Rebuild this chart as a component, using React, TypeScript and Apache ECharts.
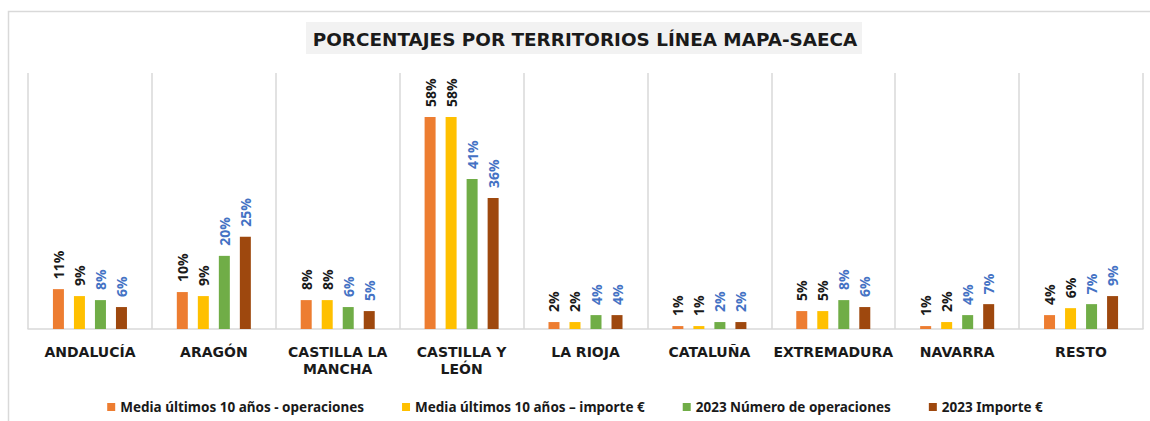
import React, { useEffect, useRef } from "react";
import * as echarts from "echarts";

const TITLE = "PORCENTAJES POR TERRITORIOS LÍNEA MAPA-SAECA";

const categories = [
  "ANDALUCÍA",
  "ARAGÓN",
  "CASTILLA LA MANCHA",
  "CASTILLA Y LEÓN",
  "LA RIOJA",
  "CATALUÑA",
  "EXTREMADURA",
  "NAVARRA",
  "RESTO",
];

const categoryLabels: Record<string, string> = {
  "CASTILLA LA MANCHA": "CASTILLA LA\nMANCHA",
  "CASTILLA Y LEÓN": "CASTILLA Y\nLEÓN",
};

const seriesNames = [
  "Media últimos 10 años - operaciones",
  "Media últimos 10 años – importe €",
  "2023 Número de operaciones",
  "2023 Importe €",
];

const mediaOperaciones = [10.9, 10.1, 7.9, 58.0, 1.9, 0.8, 4.9, 0.8, 3.8];
const mediaImporte = [9.0, 9.0, 7.9, 58.0, 1.9, 0.8, 4.9, 1.9, 5.7];
const operaciones2023 = [7.9, 20.0, 6.0, 41.0, 3.8, 1.9, 7.9, 3.8, 6.8];
const importe2023 = [6.0, 25.2, 4.9, 35.8, 3.8, 1.9, 6.0, 6.8, 9.0];

const seriesValues = [mediaOperaciones, mediaImporte, operaciones2023, importe2023];
const seriesColors = ["#ED7D31", "#FFC000", "#70AD47", "#9E480E"];
const labelColors = ["#1a1a1a", "#1a1a1a", "#4472C4", "#4472C4"];

export default function App() {
  const ref = useRef<HTMLDivElement>(null);

  useEffect(() => {
    if (!ref.current) return;
    const chart = echarts.init(ref.current, undefined, { renderer: "svg" });
    chart.setOption({
      animation: false,
      backgroundColor: "#ffffff",
      graphic: [
        {
          type: "rect",
          z: -10,
          silent: true,
          shape: { x: 8.5, y: 11.5, width: 1160, height: 430 },
          style: { fill: "none", stroke: "#D9D9D9", lineWidth: 1.5 },
        },
        {
          type: "rect",
          z: -5,
          silent: true,
          shape: { x: 306, y: 22, width: 556, height: 32 },
          style: { fill: "#F2F2F2" },
        },
        {
          type: "text",
          x: 585,
          y: 39,
          style: {
            text: TITLE,
            textAlign: "center",
            textVerticalAlign: "middle",
            fill: "#1a1a1a",
            font: "bold 18.4px 'DejaVu Sans'",
          },
        },
      ],
      legend: {
        data: seriesNames,
        left: "center",
        top: 395,
        itemWidth: 8,
        itemHeight: 8,
        itemGap: 38,
        icon: "rect",
        textStyle: {
          fontFamily: "'Noto Sans'",
          fontWeight: "bold",
          fontSize: 13.5,
          color: "#1a1a1a",
        },
      },
      grid: { left: 28, right: 7, top: 73, bottom: 92 },
      xAxis: {
        type: "category",
        data: categories,
        axisLine: { show: true, lineStyle: { color: "#D9D9D9", width: 1.5 } },
        axisTick: { show: false },
        splitLine: { show: true, lineStyle: { color: "#D9D9D9", width: 1.5 } },
        axisLabel: {
          margin: 14,
          interval: 0,
          fontFamily: "'DejaVu Sans'",
          fontWeight: "bold",
          fontSize: 14,
          lineHeight: 17,
          color: "#1a1a1a",
          formatter: (v: string) => categoryLabels[v] ?? v,
        },
      },
      yAxis: {
        type: "value",
        min: 0,
        max: 70,
        show: false,
        splitLine: { show: false },
      },
      series: seriesNames.map((name, i) => ({
        name,
        type: "bar",
        data: seriesValues[i],
        barWidth: 11,
        barGap: "91%",
        itemStyle: { color: seriesColors[i] },
        label: {
          show: true,
          position: "top",
          rotate: 90,
          align: "left",
          verticalAlign: "middle",
          distance: 10,
          fontFamily: "'Open Sans'",
          fontWeight: "bold",
          fontSize: 14,
          color: labelColors[i],
          formatter: (p: any) => Math.round(p.value) + "%",
        },
      })),
    });
    return () => chart.dispose();
  }, []);

  return (
    <div
      ref={ref}
      style={{ position: "absolute", left: 0, top: 0, width: 1150, height: 421 }}
    />
  );
}
